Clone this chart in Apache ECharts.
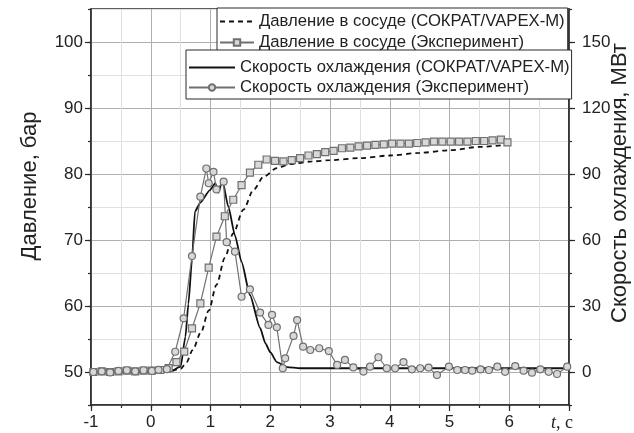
<!DOCTYPE html>
<html>
<head>
<meta charset="utf-8">
<script src="https://cdn.jsdelivr.net/npm/echarts@6/dist/echarts.min.js"></script>
<style>
  html, body { margin: 0; padding: 0; background: #fff; }
  #chart { width: 634px; height: 433px; }
</style>
</head>
<body>
<div id="chart"></div>
<script>
// время, с
var pressureSimT = [-1, 0, 0.3, 0.5, 0.6, 0.7, 0.84, 0.97, 1.1, 1.24, 1.38, 1.55, 1.72, 1.89, 2.11, 2.33, 2.7, 3.0, 3.5, 4.0, 4.5, 5.0, 5.5, 6.0]
var pressureSimP = [50, 50, 50.1, 50.5, 51.5, 53.3, 56, 59.3, 63.2, 67.3, 71, 74.6, 77.6, 79.6, 80.9, 81.5, 81.9, 82.1, 82.4, 82.8, 83.2, 83.6, 84.1, 84.5]

var pressureExpT = [-0.96, -0.82, -0.68, -0.54, -0.40, -0.26, -0.12, 0.02, 0.16, 0.30, 0.43, 0.56, 0.69, 0.83, 0.97, 1.10, 1.24, 1.38, 1.52, 1.66, 1.80, 1.94, 2.08, 2.22, 2.36, 2.50, 2.64, 2.78, 2.92, 3.06, 3.20, 3.34, 3.48, 3.62, 3.76, 3.90, 4.04, 4.18, 4.32, 4.46, 4.60, 4.74, 4.88, 5.02, 5.16, 5.30, 5.44, 5.58, 5.72, 5.86, 5.97]
var pressureExpP = [50.0, 50.1, 50.0, 50.1, 50.2, 50.1, 50.2, 50.2, 50.3, 50.6, 51.5, 53.1, 56.6, 60.4, 65.8, 70.5, 73.6, 76.1, 78.3, 80.2, 81.4, 82.2, 82.0, 81.9, 82.1, 82.4, 82.8, 83.0, 83.3, 83.5, 83.9, 84.0, 84.2, 84.3, 84.4, 84.5, 84.6, 84.6, 84.6, 84.7, 84.8, 84.9, 84.9, 84.9, 84.9, 84.9, 85.0, 85.0, 85.1, 85.2, 84.8]

var coolSimT = [-1, 0, 0.33, 0.5, 0.58, 0.63, 0.69, 0.74, 0.83, 0.99, 1.08, 1.13, 1.2, 1.3, 1.41, 1.52, 1.66, 1.83, 1.92, 2.0, 2.11, 2.28, 2.5, 6.97]
var coolSimW = [0, 0, 0.3, 2.4, 16, 31, 51, 73, 77, 82.7, 85.8, 81.5, 87, 75, 62, 50, 35, 20, 13, 9, 4.5, 2.2, 1.7, 1.7]

var coolExpT = [-0.96, -0.82, -0.68, -0.54, -0.40, -0.26, -0.12, 0.02, 0.13, 0.27, 0.41, 0.55, 0.69, 0.83, 0.93, 0.97, 1.05, 1.10, 1.22, 1.27, 1.41, 1.52, 1.66, 1.83, 1.97, 2.03, 2.11, 2.21, 2.25, 2.39, 2.45, 2.55, 2.67, 2.82, 2.98, 3.12, 3.25, 3.39, 3.56, 3.67, 3.81, 3.95, 4.09, 4.23, 4.37, 4.51, 4.65, 4.79, 4.99, 5.13, 5.26, 5.38, 5.52, 5.66, 5.80, 5.93, 6.10, 6.24, 6.38, 6.52, 6.66, 6.80, 6.97]
var coolExpW = [0.0, 0.3, -0.2, 0.5, 0.8, 0.3, 0.8, 0.5, 1.0, 1.3, 9.2, 24.4, 52.7, 79.7, 92.5, 85.8, 91.0, 83.0, 86.5, 59.0, 54.7, 34.2, 37.6, 27.0, 21.4, 26.0, 20.3, 1.7, 6.2, 16.4, 23.6, 11.5, 10.0, 10.8, 9.5, 3.2, 5.5, 2.1, 0.2, 2.4, 6.7, 1.7, 1.7, 4.5, 1.2, 1.7, 2.0, -1.4, 2.4, 0.9, 0.9, 0.6, 1.2, 0.9, 2.4, 0.1, 2.7, 0.6, -0.3, 1.2, 0.1, -0.9, 2.4]

var xMajorTicks = [-1, 0, 1, 2, 3, 4, 5, 6, 7]
var pMajorTicks = [50, 60, 70, 80, 90, 100]
var wMajorTicks = [0, 30, 60, 90, 120, 150]

var names = [
  'Давление в сосуде (СОКРАТ/VAPEX-M)',
  'Давление в сосуде (Эксперимент)',
  'Скорость охлаждения (СОКРАТ/VAPEX-M)',
  'Скорость охлаждения (Эксперимент)'
]

function pairs(xs, ys){
  return xs.map(function(x, i){ return [x, ys[i]] })
}

var font = 'Liberation Sans, Arial, sans-serif'
var axisColor = '#2a2a2a'
var expColor = '#707070'
var markerFill = '#d8d8d8'

var myChart = echarts.init(document.getElementById('chart'))
myChart.setOption({
  animation: false,
  backgroundColor: '#fff',
  textStyle: { fontFamily: font },
  grid: {
    left: 91, right: 65, top: 9, bottom: 28,
    outerBoundsMode: 'none',
    show: true, borderColor: axisColor, borderWidth: 1.5, backgroundColor: 'transparent'
  },
  legend: [{
    // линии без маркеров — прячем точку в значке
    data: [{ name: names[0], itemStyle: { opacity: 0 } }, names[1]],
    orient: 'vertical',
    left: 217, top: 8,
    padding: [5, 3, 1, 2],
    itemGap: 4,
    itemWidth: 34, itemHeight: 8,
    backgroundColor: '#fff',
    borderColor: axisColor, borderWidth: 1,
    textStyle: { fontSize: 16.7, color: '#222', fontFamily: font }
  }, {
    data: [{ name: names[2], itemStyle: { opacity: 0 } }, names[3]],
    orient: 'vertical',
    left: 186, top: 50,
    padding: [9, 2, 3, 2],
    itemGap: 3,
    itemWidth: 46, itemHeight: 8,
    backgroundColor: '#fff',
    borderColor: axisColor, borderWidth: 1,
    textStyle: { fontSize: 16.7, color: '#222', fontFamily: font }
  }],
  xAxis: [{
    type: 'value',
    min: -1, max: 7, interval: 0.5,
    axisLine: { onZero: false, lineStyle: { color: axisColor, width: 1.5 } },
    axisTick: { length: 3, lineStyle: { color: axisColor, width: 1.2 } },
    splitLine: { show: true, lineStyle: { color: ['#b0b0b0', '#e0e0e0'], width: 1 } },
    axisLabel: {
      margin: 9,
      fontSize: 17,
      color: '#222',
      showMaxLabel: true,
      formatter: function(v){
        if (v === 7) return '{i|t}{n|, c}{s|}'
        if (Math.abs(v - Math.round(v)) > 1e-6) return ''
        return String(v)
      },
      rich: {
        i: { fontFamily: 'Liberation Serif, serif', fontStyle: 'italic', fontSize: 18, color: '#222' },
        n: { fontFamily: 'Liberation Serif, serif', fontSize: 18, color: '#222' },
        s: { width: 14 }
      }
    }
  }, {
    type: 'value',
    min: -1, max: 7,
    position: 'bottom',
    axisLine: { show: false, onZero: false },
    axisTick: { show: true, length: 6, customValues: xMajorTicks, lineStyle: { color: axisColor, width: 1.2 } },
    axisLabel: { show: false },
    splitLine: { show: false }
  }],
  yAxis: [{
    type: 'value',
    min: 45, max: 105, interval: 5,
    position: 'left',
    name: 'Давление, бар',
    nameLocation: 'middle',
    nameGap: 50,
    nameMoveOverlap: false,
    nameTextStyle: { fontSize: 22, color: '#222', padding: [0, 0, 0, 42] },
    axisLine: { show: true, onZero: false, lineStyle: { color: axisColor, width: 1.5 } },
    axisTick: { length: 3, lineStyle: { color: axisColor, width: 1.2 } },
    splitLine: { show: true, lineStyle: { color: ['#e0e0e0', '#b0b0b0'], width: 1 } },
    axisLabel: {
      margin: 8, fontSize: 17, color: '#222',
      formatter: function(v){ return pMajorTicks.indexOf(v) >= 0 ? String(v) : '' }
    }
  }, {
    type: 'value',
    min: -15, max: 165, interval: 15,
    position: 'right',
    name: 'Скорость охлаждения, МВт',
    nameLocation: 'middle',
    nameGap: 40,
    nameMoveOverlap: false,
    nameTextStyle: { fontSize: 22, color: '#222', padding: [0, 0, 0, 48] },
    axisLine: { show: true, onZero: false, lineStyle: { color: axisColor, width: 1.5 } },
    axisTick: { length: 3, lineStyle: { color: axisColor, width: 1.2 } },
    splitLine: { show: false },
    axisLabel: {
      margin: 13, fontSize: 17, color: '#222',
      formatter: function(v){ return wMajorTicks.indexOf(v) >= 0 ? String(v) : '' }
    }
  }, {
    type: 'value',
    min: 45, max: 105,
    position: 'left',
    axisLine: { show: false, onZero: false },
    axisTick: { show: true, length: 6, customValues: pMajorTicks, lineStyle: { color: axisColor, width: 1.2 } },
    axisLabel: { show: false },
    splitLine: { show: false }
  }, {
    type: 'value',
    min: -15, max: 165,
    position: 'right',
    axisLine: { show: false, onZero: false },
    axisTick: { show: true, length: 6, customValues: wMajorTicks, lineStyle: { color: axisColor, width: 1.2 } },
    axisLabel: { show: false },
    splitLine: { show: false }
  }],
  series: [{
    name: names[0],
    type: 'line',
    yAxisIndex: 0,
    smooth: 0.3,
    smoothMonotone: 'x',
    symbol: 'none',
    lineStyle: { color: '#111', width: 1.8, type: [5, 4] },
    itemStyle: { color: '#111' },
    data: pairs(pressureSimT, pressureSimP),
    z: 3
  }, {
    name: names[1],
    type: 'line',
    yAxisIndex: 0,
    symbol: 'rect',
    symbolSize: 7,
    lineStyle: { color: expColor, width: 1.2 },
    itemStyle: { color: markerFill, borderColor: expColor, borderWidth: 1.2 },
    data: pairs(pressureExpT, pressureExpP),
    z: 4
  }, {
    name: names[2],
    type: 'line',
    yAxisIndex: 1,
    smooth: 0.2,
    smoothMonotone: 'x',
    symbol: 'none',
    lineStyle: { color: '#111', width: 1.8 },
    itemStyle: { color: '#111' },
    data: pairs(coolSimT, coolSimW),
    z: 3
  }, {
    name: names[3],
    type: 'line',
    yAxisIndex: 1,
    symbol: 'circle',
    symbolSize: 7,
    lineStyle: { color: expColor, width: 1.2 },
    itemStyle: { color: markerFill, borderColor: expColor, borderWidth: 1.2 },
    data: pairs(coolExpT, coolExpW),
    z: 4
  }]
})
</script>
</body>
</html>
